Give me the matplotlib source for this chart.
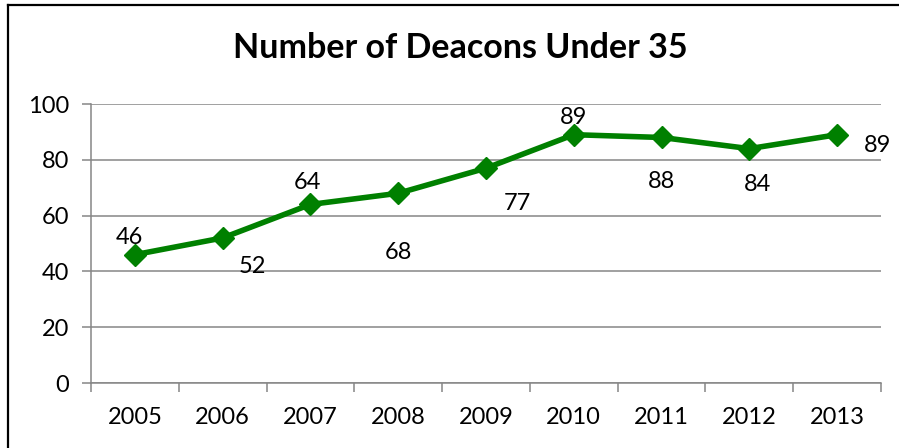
import matplotlib
matplotlib.use("Agg")
import matplotlib.pyplot as plt
from matplotlib.lines import Line2D
import numpy as np

# chart data
years = ["2005", "2006", "2007", "2008", "2009", "2010", "2011", "2012", "2013"]
deacons = [46, 52, 64, 68, 77, 89, 88, 84, 89]
y_ticks = [0, 20, 40, 60, 80, 100]

# label offsets in pixels (dx, dy), mimicking the original placement
label_offsets = [(-5, 17), (30, -29), (-3, 22), (0, -59), (31, -35),
                 (0, 17), (0, -44), (8, -36), (40, -11)]

plt.rcParams['font.family'] = ['Lato', 'DejaVu Sans']
GREEN = "#008000"
GRID = "#868686"

fig = plt.figure(figsize=(8.99, 4.48), dpi=100)
ax = fig.add_axes([91/899, 1 - 383/448, (881 - 91)/899, (383 - 104)/448])

x = np.arange(len(years))
ax.plot(x, deacons, color=GREEN, lw=4, marker="D", markersize=11,
        markerfacecolor=GREEN, markeredgecolor=GREEN, zorder=3)

for xi, v, (dx, dy) in zip(x, deacons, label_offsets):
    ax.annotate(str(v), (xi, v), xytext=(dx, dy), textcoords="offset pixels",
                ha="center", va="center", fontsize=17, color="black")

ax.set_xlim(-0.5, len(years) - 0.5)
ax.set_ylim(0, 100)
ax.set_yticks(y_ticks)
ax.set_yticklabels([str(t) for t in y_ticks])
ax.set_xticks(x)
ax.set_xticklabels(years)
ax.set_xticks(np.arange(len(years) + 1) - 0.5, minor=True)

ax.yaxis.grid(True, color=GRID, lw=1.1)
ax.set_axisbelow(True)
for s in ["top", "right"]:
    ax.spines[s].set_visible(False)
for s in ["left", "bottom"]:
    ax.spines[s].set_color(GRID)
    ax.spines[s].set_linewidth(1.1)

ax.tick_params(axis="y", length=6.5, width=1.1, color=GRID, labelsize=17, pad=9)
ax.tick_params(axis="x", which="major", length=0, labelsize=17, pad=17)
ax.tick_params(axis="x", which="minor", length=6.5, width=1.1, color=GRID)

fig.text(460/899, 1 - 48/448, "Number of Deacons Under 35", ha="center", va="center",
         fontsize=24.5, fontweight="bold")

# outer chart frame (left and top edges visible)
fig.add_artist(Line2D([8/899, 8/899], [0, 1 - 5/448], color="black", lw=1.6))
fig.add_artist(Line2D([8/899, 1], [1 - 5/448, 1 - 5/448], color="black", lw=1.6))

fig.savefig("out.png", dpi=100)
plt.close(fig)
